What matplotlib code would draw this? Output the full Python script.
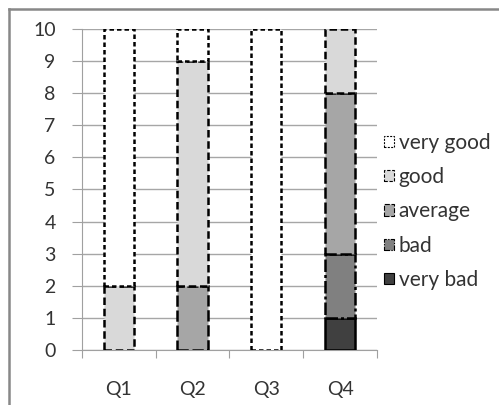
import matplotlib.pyplot as plt
from matplotlib.patches import Patch
from matplotlib.lines import Line2D

# dados do grafico
perguntas = ["Q1", "Q2", "Q3", "Q4"]
categorias = ["very bad", "bad", "average", "good", "very good"]
very_bad = [0, 0, 0, 1]
bad = [0, 0, 0, 2]
average = [0, 2, 0, 5]
good = [2, 7, 0, 2]
very_good = [8, 1, 10, 0]

series = [very_bad, bad, average, good, very_good]
cores = ["#404040", "#808080", "#a6a6a6", "#d9d9d9", "#ffffff"]
tracos = ["-", (0, (5, 1.2, 1.2, 1.2)), (0, (4.5, 1.5)), (0, (3, 1.5)), (0, (1.8, 1.2))]

plt.rcParams["font.family"] = ["Lato", "DejaVu Sans"]

fig = plt.figure(figsize=(4.99, 4.05), dpi=100)
ax = fig.add_axes([0.1643, 0.1358, 0.5912, 0.7926])

x = list(range(len(perguntas)))
base = [0] * len(perguntas)
for valores, cor, ls, nome in zip(series, cores, tracos, categorias):
    for i in x:
        if valores[i] == 0:
            continue
        ax.bar(i, valores[i], bottom=base[i], width=0.41, color=cor,
               edgecolor="black", linewidth=1.8, linestyle=ls, zorder=3)
    base = [b + v for b, v in zip(base, valores)]

ax.set_xlim(-0.5, 3.5)
ax.set_ylim(0, 10)
ax.set_yticks(range(0, 11))
ax.yaxis.grid(True, color="#a6a6a6", linewidth=1, zorder=0)
ax.set_xticks([-0.5, 0.5, 1.5, 2.5, 3.5])
ax.set_xticklabels([])
ax.set_xticks(x, minor=True)
ax.set_xticklabels(perguntas, minor=True)
ax.tick_params(axis="x", which="minor", length=0, pad=22, labelsize=14, labelcolor="#333333")
ax.tick_params(axis="x", which="major", length=6, color="#a0a0a0")
ax.tick_params(axis="y", length=7, color="#a0a0a0", labelsize=14, labelcolor="#333333", pad=12)
for s in ["top", "right"]:
    ax.spines[s].set_visible(False)
for s in ["left", "bottom"]:
    ax.spines[s].set_color("#a0a0a0")

# legenda
handles = []
for cor, ls, nome in zip(cores[::-1], tracos[::-1], categorias[::-1]):
    handles.append(Patch(facecolor=cor, edgecolor="black", linewidth=0.8, linestyle=ls, label=nome))
fig.legend(handles=handles, loc="center left", bbox_to_anchor=(0.77, 0.478),
           frameon=False, fontsize=15, handlelength=0.45, handleheight=0.45,
           handletextpad=0.25, labelspacing=0.68, labelcolor="#333333",
           borderaxespad=0, borderpad=0)

# borda cinza do grafico
fig.add_artist(Line2D([0.018, 0.018], [0, 0.978], color="#888888", linewidth=1.8))
fig.add_artist(Line2D([0.018, 1], [0.978, 0.978], color="#888888", linewidth=1.8))

fig.savefig("out.png", dpi=100)
